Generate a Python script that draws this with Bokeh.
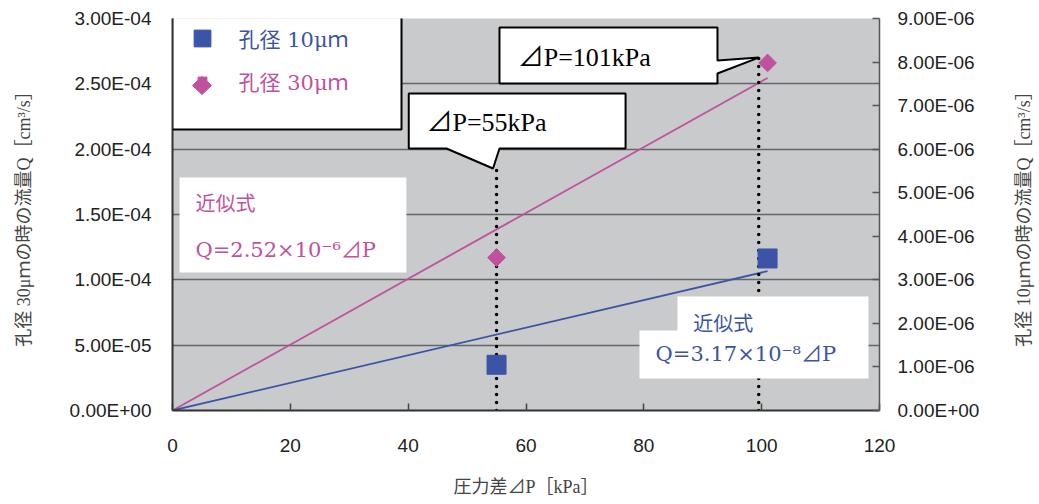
import math
from bokeh.plotting import figure
from bokeh.layouts import row
from bokeh.models import (Range1d, LinearAxis, FixedTicker, Legend, LegendItem,
                          PolyAnnotation, Label)
from bokeh.embed import file_html
from bokeh.resources import INLINE

# ---------------- data ----------------
dp = [55, 101]                       # 圧力差 ⊿P [kPa]
q_10um = [1.05e-6, 3.49e-6]          # 孔径10μm 流量 (right axis)
q_30um = [1.17e-4, 2.66e-4]          # 孔径30μm 流量 (left axis)
fit_dp = [0, 101]
fit_10um = [0.0, 3.20e-6]            # Q=3.17×10^-8 ⊿P
fit_30um = [0.0, 2.545e-4]           # Q=2.52×10^-6 ⊿P
guide_dp = [55, 99.5]
guide_bottom = [0.0, 0.0]
guide_top = [1.85e-4, 2.73e-4]

x_ticks = [0, 20, 40, 60, 80, 100, 120]
left_ticks = [0.0, 5e-05, 1e-04, 1.5e-04, 2e-04, 2.5e-04, 3e-04]
left_labels = ["0.00E+00", "5.00E-05", "1.00E-04", "1.50E-04", "2.00E-04",
               "2.50E-04", "3.00E-04"]
right_ticks = [0.0, 1e-06, 2e-06, 3e-06, 4e-06, 5e-06, 6e-06, 7e-06, 8e-06, 9e-06]
right_labels = ["0.00E+00", "1.00E-06", "2.00E-06", "3.00E-06", "4.00E-06",
                "5.00E-06", "6.00E-06", "7.00E-06", "8.00E-06", "9.00E-06"]

series_names = ["孔径 10μｍ", "孔径 30μｍ"]
x_title = "圧力差⊿P［kPa］"
left_title = "孔径 30μｍの時の流量Q［cm³/s］"
right_title = "孔径 10μｍの時の流量Q［cm³/s］"

BLUE = "#3c54a6"
PINK = "#c0519d"
SERIF = "Liberation Serif, Noto Sans CJK JP"
WSERIF = "DejaVu Serif, Noto Sans CJK JP"
SANS = "Liberation Sans"

p = figure(width=1008, height=504, x_range=Range1d(0, 120), y_range=Range1d(0, 3e-4),
           output_backend="svg", toolbar_location=None,
           min_border_left=172, min_border_right=129, min_border_top=18, min_border_bottom=94)
p.extra_y_ranges = {"r": Range1d(0, 9e-6)}
p.background_fill_color = "#c9cacc"
p.border_fill_color = "white"
p.outline_line_color = None

# axes
p.xaxis.ticker = FixedTicker(ticks=x_ticks)
p.yaxis.ticker = FixedTicker(ticks=left_ticks)
p.yaxis.major_label_overrides = dict(zip(left_ticks, left_labels))
p.ygrid.ticker = p.yaxis[0].ticker
p.xgrid.visible = False
p.ygrid.grid_line_color = "#666666"
p.ygrid.grid_line_width = 1.5

for ax in (p.xaxis[0], p.yaxis[0]):
    ax.axis_line_color = "#333333"
    ax.axis_line_width = 2
    ax.major_tick_line_color = "#444444"
    ax.major_tick_line_width = 1.5
    ax.minor_tick_line_color = None
    ax.major_label_text_font = SANS
    ax.major_label_text_font_size = "19px"
    ax.major_label_text_color = "#222222"
    ax.axis_label_text_font = SERIF
    ax.axis_label_text_font_size = "18px"
    ax.axis_label_text_font_style = "normal"
    ax.axis_label_text_color = "#444444"

p.xaxis.major_tick_in = 7
p.xaxis.major_tick_out = 0
p.xaxis.major_label_standoff = 28
p.xaxis.axis_label = x_title
p.xaxis.axis_label_standoff = 22

p.yaxis.major_tick_in = 0
p.yaxis.major_tick_out = 0
p.yaxis.major_label_standoff = 21
p.yaxis.axis_label = left_title
p.yaxis.axis_label_standoff = 33

ax_r = LinearAxis(y_range_name="r", ticker=FixedTicker(ticks=right_ticks),
                  major_label_overrides=dict(zip(right_ticks, right_labels)))
ax_r.axis_line_color = "#555555"
ax_r.axis_line_width = 1.5
ax_r.major_tick_line_color = "#555555"
ax_r.major_tick_line_width = 1.5
ax_r.major_tick_in = 7
ax_r.major_tick_out = 0
ax_r.minor_tick_line_color = None
ax_r.major_label_text_font = SANS
ax_r.major_label_text_font_size = "19px"
ax_r.major_label_text_color = "#222222"
ax_r.major_label_standoff = 18
p.add_layout(ax_r, "right")

# trend lines
p.line(fit_dp, fit_30um, line_color=PINK, line_width=1.8)
p.line(fit_dp, fit_10um, line_color=BLUE, line_width=1.8, y_range_name="r")

# dotted guide lines
p.segment(x0=guide_dp, y0=guide_bottom, x1=guide_dp, y1=guide_top,
          line_color="black", line_width=3.5, line_dash="0 8", line_cap="round")

# data points
r10 = p.scatter(dp, q_10um, marker="square", size=19, fill_color=BLUE,
                line_color=BLUE, y_range_name="r")
r30 = p.scatter(dp, q_30um, marker="square", angle=math.pi / 4, size=12.5,
                fill_color=PINK, line_color=PINK)

# legend box + items
p.add_layout(PolyAnnotation(xs=[0.0, 38.87, 38.87, 0.0],
                            ys=[3.061e-4, 3.061e-4, 2.150e-4, 2.150e-4],
                            fill_color="white", fill_alpha=1.0,
                            line_color="black", line_alpha=1.0, line_width=2))
for name, rend, col, loc, g, so in (
        (series_names[0], r10, BLUE, (8.5, 351.5), 42, 16),
        (series_names[1], r30, PINK, (18.5, 314), 22, 26)):
    lg = Legend(items=[LegendItem(label=name, renderers=[rend])], location=loc,
                margin=0, padding=0, spacing=0, glyph_width=g, glyph_height=g,
                label_height=g, label_standoff=so,
                label_text_font=WSERIF, label_text_font_size="21px",
                label_text_color=col, border_line_color=None,
                background_fill_alpha=0.0)
    p.add_layout(lg, "center")
# diamond shape of the 30μm legend symbol
p.add_layout(PolyAnnotation(xs=[5.007, 6.62, 5.007, 3.395],
                            ys=[2.556e-4, 2.487e-4, 2.418e-4, 2.487e-4],
                            fill_color=PINK, fill_alpha=1.0, line_color=PINK,
                            line_alpha=1.0, line_width=1))

# callouts
p.add_layout(PolyAnnotation(
    xs=[40.1, 76.9, 76.9, 55.5, 54.4, 46.5, 40.1],
    ys=[2.426e-4, 2.426e-4, 2.005e-4, 2.005e-4, 1.852e-4, 2.005e-4, 2.005e-4],
    fill_color="white", fill_alpha=1.0, line_color="black", line_alpha=1.0, line_width=2))
p.add_layout(Label(x=43.1, y=2.204e-4, text="⊿P=55kPa", text_font=SERIF,
                   text_font_size="26px", text_color="black", text_baseline="middle"))

p.add_layout(PolyAnnotation(
    xs=[55.5, 92.5, 92.5, 99.5, 92.5, 92.5, 55.5],
    ys=[2.931e-4, 2.931e-4, 2.679e-4, 2.701e-4, 2.579e-4, 2.503e-4, 2.503e-4],
    fill_color="white", fill_alpha=1.0, line_color="black", line_alpha=1.0, line_width=2))
p.add_layout(Label(x=58.6, y=2.701e-4, text="⊿P=101kPa", text_font=SERIF,
                   text_font_size="26px", text_color="black", text_baseline="middle"))

# equation boxes
p.add_layout(PolyAnnotation(xs=[1.19, 39.7, 39.7, 1.19],
                            ys=[1.783e-4, 1.783e-4, 1.056e-4, 1.056e-4],
                            fill_color="white", fill_alpha=1.0, line_color=None))
p.add_layout(Label(x=3.9, y=1.584e-4, text="近似式", text_font=SERIF,
                   text_font_size="20px", text_color=PINK, text_baseline="middle"))
p.add_layout(Label(x=3.9, y=1.232e-4, text="Q=2.52×10⁻⁶⊿P", text_font=WSERIF,
                   text_font_size="21px", text_color=PINK, text_baseline="middle"))

p.add_layout(PolyAnnotation(xs=[85.71, 118.13, 118.13, 79.26, 79.26, 85.71],
                            ys=[8.724e-5, 8.724e-5, 2.449e-5, 2.449e-5, 6.122e-5, 6.122e-5],
                            fill_color="white", fill_alpha=1.0, line_color=None))
p.add_layout(Label(x=88.4, y=6.658e-5, text="近似式", text_font=SERIF,
                   text_font_size="20px", text_color=BLUE, text_baseline="middle"))
p.add_layout(Label(x=82.0, y=4.286e-5, text="Q=3.17×10⁻⁸⊿P", text_font=WSERIF,
                   text_font_size="21px", text_color=BLUE, text_baseline="middle"))

# narrow strip carrying the right-hand axis title (reads bottom-to-top)
p2 = figure(width=31, height=504, x_range=Range1d(0, 1), y_range=Range1d(0, 9e-6),
            output_backend="svg", toolbar_location=None,
            min_border_left=25, min_border_right=0, min_border_top=18, min_border_bottom=94)
p2.outline_line_color = None
p2.background_fill_color = "white"
p2.border_fill_color = "white"
p2.xaxis.visible = False
p2.grid.visible = False
p2.yaxis.ticker = FixedTicker(ticks=[])
p2.yaxis.axis_label = right_title
p2.yaxis.axis_label_text_font = SERIF
p2.yaxis.axis_label_text_font_size = "18px"
p2.yaxis.axis_label_text_font_style = "normal"
p2.yaxis.axis_label_text_color = "#444444"
p2.yaxis.axis_label_standoff = 0
p2.yaxis.major_label_standoff = 0
p2.yaxis.major_tick_line_color = None
p2.yaxis.minor_tick_line_color = None
p2.yaxis.major_tick_out = 0
p2.yaxis.major_tick_in = 0
p2.yaxis.axis_line_color = None

layout = row(p, p2)
open("out.html", "w").write(file_html(layout, INLINE))
